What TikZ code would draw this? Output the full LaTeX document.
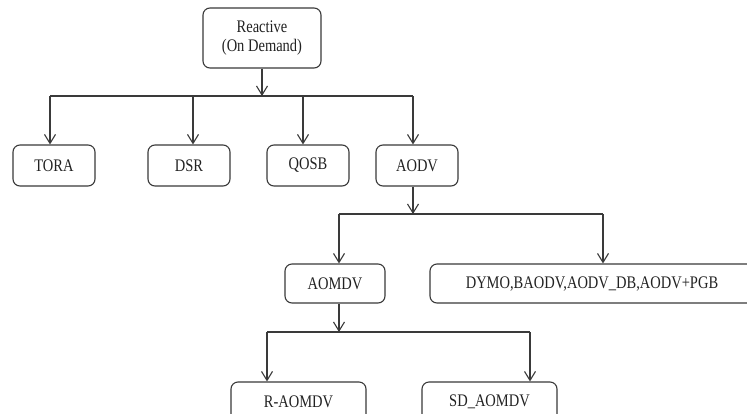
\documentclass[tikz,border=0pt]{standalone}
\usepackage{fontspec}
\usepackage{graphicx}
\setmainfont{Liberation Serif}
\usetikzlibrary{arrows.meta}
\definecolor{ln}{HTML}{3A3A3A}
\definecolor{tx}{HTML}{222222}
\newcommand\tall[1]{\scalebox{1}[1.22]{#1}}
\begin{document}
\begin{tikzpicture}[x=1pt,y=-1pt,
  box/.style={draw=ln, line width=1.1pt, rounded corners=7pt, inner sep=0pt,
    font=\fontsize{14.5}{19}\selectfont, text=tx, align=center},
  wire/.style={draw=ln, line width=1.1pt},
  arr/.style={wire, -{Straight Barb[length=9pt,width=11pt,line width=1.1pt]}}]
\useasboundingbox (0,0) rectangle (747,413);
\clip (0,0) rectangle (747,413);
\fill[white] (0,0) rectangle (747,413);
% nodes
\node[box, minimum width=118pt, minimum height=60pt] (react) at (262,38) {\tall{Reactive}\\\tall{(On Demand)}};
\node[box, minimum width=82pt, minimum height=41pt] (tora) at (54,165.5) {\tall{TORA}};
\node[box, minimum width=82pt, minimum height=41pt] (dsr) at (189,165.5) {\tall{DSR}};
\node[box, minimum width=82pt, minimum height=41pt] (qosb) at (308,165.5) {\tall{QOSB}};
\node[box, minimum width=82pt, minimum height=41pt] (aodv) at (417,165.5) {\tall{AODV}};
\node[box, minimum width=100pt, minimum height=39pt] (aomdv) at (335,283.5) {\tall{AOMDV}};
\node[box, minimum width=324pt, minimum height=39pt] (dymo) at (592,283.5) {\tall{DYMO,BAODV,AODV\_DB,AODV+PGB}};
\node[box, minimum width=135pt, minimum height=40pt] (raomdv) at (298.5,402) {\tall{R-AOMDV}};
\node[box, minimum width=135pt, minimum height=40pt] (sdaomdv) at (489.5,402) {\tall{SD\_AOMDV}};
% bus coordinates
\coordinate (b1) at (262,96);
\coordinate (l1) at (50,96);
\coordinate (m1) at (193,96);
\coordinate (n1) at (303,96);
\coordinate (r1) at (413,96);
\coordinate (b2) at (413,214);
\coordinate (l2) at (339,214);
\coordinate (r2) at (603,214);
\coordinate (b3) at (339,332);
\coordinate (l3) at (267,332);
\coordinate (r3) at (530,332);
% level 1
\draw[arr] (react.south) -- (b1);
\draw[wire] (l1) -- (r1);
\draw[arr] (l1) -- (l1 |- tora.north);
\draw[arr] (m1) -- (m1 |- dsr.north);
\draw[arr] (n1) -- (n1 |- qosb.north);
\draw[arr] (r1) -- (r1 |- aodv.north);
% level 2
\draw[arr] (b2 |- aodv.south) -- (b2);
\draw[wire] (l2) -- (r2);
\draw[arr] (l2) -- (l2 |- aomdv.north);
\draw[arr] (r2) -- (r2 |- dymo.north);
% level 3
\draw[arr] (b3 |- aomdv.south) -- (b3);
\draw[wire] (l3) -- (r3);
\draw[arr] (l3) -- (l3 |- raomdv.north);
\draw[arr] (r3) -- (r3 |- sdaomdv.north);
\end{tikzpicture}
\end{document}
